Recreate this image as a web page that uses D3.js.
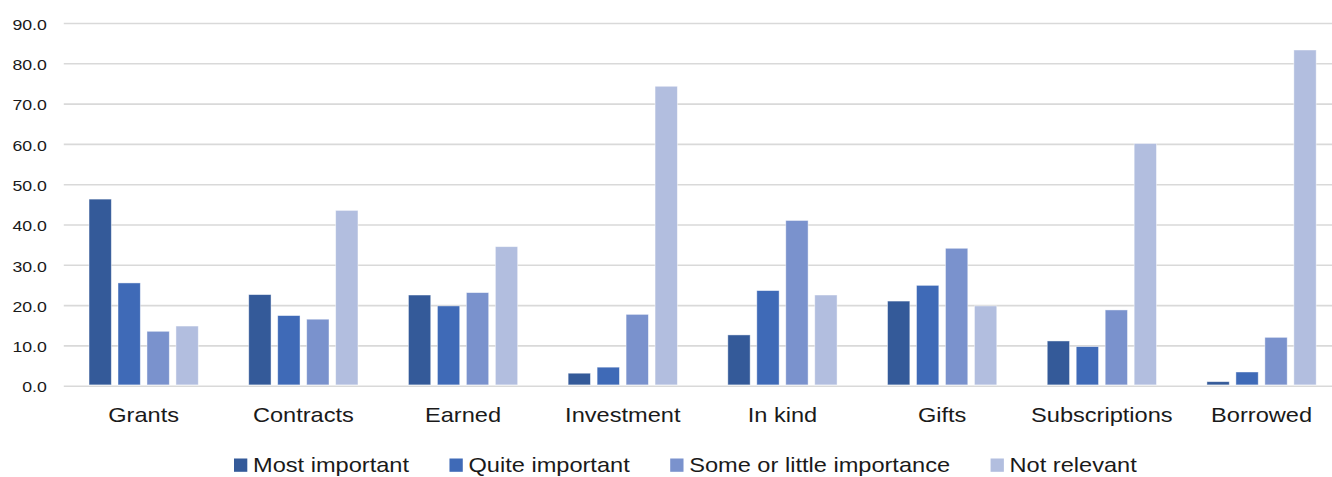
<!DOCTYPE html>
<html>
<head>
<meta charset="utf-8">
<script src="https://cdn.jsdelivr.net/npm/d3@7"></script>
<style>
  html, body { margin: 0; padding: 0; background: #fff; }
  svg { display: block; }
  text { font-family: "Liberation Sans", Arial, sans-serif; fill: #1a1a1a; }
</style>
</head>
<body>
<svg id="chart" width="1332" height="477"></svg>
<script>
const categories = ["Grants", "Contracts", "Earned", "Investment", "In kind", "Gifts", "Subscriptions", "Borrowed"];
const seriesNames = ["Most important", "Quite important", "Some or little importance", "Not relevant"];
const mostImportant = [46.3, 22.6, 22.5, 3.1, 12.6, 21.0, 11.1, 1.0];
const quiteImportant = [25.5, 17.4, 19.8, 4.6, 23.6, 24.9, 9.7, 3.4];
const someOrLittle = [13.5, 16.5, 23.1, 17.7, 41.0, 34.1, 18.8, 12.0];
const notRelevant = [14.8, 43.5, 34.5, 74.3, 22.5, 19.8, 60.1, 83.3];
const yTicks = [0, 10, 20, 30, 40, 50, 60, 70, 80, 90];
const colors = ["#345a99", "#3f6ab7", "#7a92cd", "#b2bedf"];

const seriesValues = [mostImportant, quiteImportant, someOrLittle, notRelevant];
const SX = 1.18; // horizontal text stretch of the reference

const svg = d3.select("#chart");
const plotLeft = 63.8, plotRight = 1341.4, plotTop = 23, plotBottom = 385.7;

const x0 = d3.scaleBand().domain(categories).range([plotLeft, plotRight]).padding(0);
const groupInset = x0.bandwidth() * 0.158;
const x1 = d3.scaleBand().domain(seriesNames)
  .range([groupInset, x0.bandwidth() - groupInset])
  .paddingInner(0.23).paddingOuter(0);
const y = d3.scaleLinear().domain([0, 90]).range([plotBottom, plotTop]);

// Y axis with gridlines
const yAxis = svg.append("g")
  .attr("transform", `translate(${plotLeft},0)`)
  .call(d3.axisLeft(y).tickValues(yTicks).tickFormat(d3.format(".1f"))
    .tickSizeInner(-(1332 - plotLeft)).tickSizeOuter(0).tickPadding(17));
yAxis.select(".domain").remove();
yAxis.selectAll(".tick line").attr("stroke", "#d9d9d9").attr("stroke-width", 1.6);
yAxis.selectAll(".tick text")
  .attr("font-size", 15)
  .attr("dy", null)
  .attr("x", null)
  .attr("fill", "#1a1a1a")
  .style("font-family", '"Liberation Sans", Arial, sans-serif')
  .attr("transform", `translate(-17,6.2) scale(${SX},1)`);

// Bars
const groups = svg.append("g").selectAll("g")
  .data(categories)
  .join("g")
  .attr("transform", d => `translate(${x0(d)},0)`);

groups.selectAll("rect")
  .data((d, i) => seriesNames.map((s, j) => ({ s, j, v: seriesValues[j][i] })))
  .join("rect")
  .attr("x", d => x1(d.s))
  .attr("width", x1.bandwidth())
  .attr("y", d => y(d.v))
  .attr("height", d => y(0) - y(d.v) - 0.8)
  .attr("fill", (d) => colors[d.j])
  .attr("stroke", "rgba(255,255,255,0.55)")
  .attr("stroke-width", 0.8);

// X axis labels
const xAxis = svg.append("g")
  .attr("transform", `translate(0,${plotBottom})`)
  .call(d3.axisBottom(x0).tickSize(0).tickPadding(0));
xAxis.select(".domain").remove();
xAxis.selectAll(".tick text")
  .attr("font-size", 20)
  .attr("y", null)
  .attr("dy", null)
  .attr("fill", "#1a1a1a")
  .style("font-family", '"Liberation Sans", Arial, sans-serif')
  .attr("transform", `translate(0,35.8) scale(${SX},1)`);

// Legend
const legend = svg.append("g");
let lx = 234;
seriesNames.forEach((name, j) => {
  legend.append("rect")
    .attr("x", lx).attr("y", 458.5)
    .attr("width", 13.3).attr("height", 13.3)
    .attr("fill", colors[j]);
  const t = legend.append("text")
    .attr("font-size", 20)
    .attr("transform", `translate(${lx + 19},472.3) scale(${SX},1)`)
    .text(name);
  const w = t.node().getComputedTextLength() * SX;
  lx += 19 + w + 40.5;
});
</script>
</body>
</html>
